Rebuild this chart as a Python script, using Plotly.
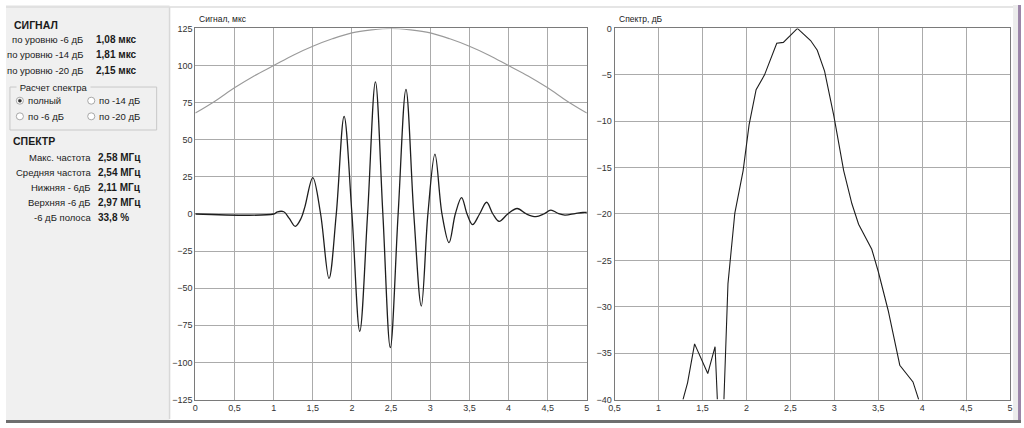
import plotly.graph_objects as go

# ---------------- data ----------------
signal_t = [0, 1.0, 1.05, 1.13, 1.2, 1.276, 1.35, 1.40, 1.50, 1.60, 1.707, 1.80, 1.90, 2.00,
            2.10, 2.20, 2.30, 2.395, 2.49, 2.59, 2.69, 2.79, 2.886, 2.97, 3.06, 3.15, 3.24,
            3.32, 3.40, 3.47, 3.54, 3.63, 3.72, 3.80, 3.88, 3.99, 4.11, 4.23, 4.35, 4.45,
            4.54, 4.63, 4.72, 4.85, 4.95, 5.0]
signal_v = [0, 0, 1.5, 1.5, -3, -8.3, -3, 5, 24.5, 0, -43.4, 0, 65.8, 0,
            -79, 0, 89, 0, -90, 0, 84, 0, -62, 0, 40.3, 0, -19.3,
            0, 11, 0, -7.2, 0, 7.9, 0, -5, 0, 3.7, 0, -1.8, 0,
            2.6, 0.5, -0.7, 0.3, 1, 1]

envelope_t = [0, 0.25, 0.5, 0.75, 1.0, 1.25, 1.5, 1.75, 2.0, 2.25, 2.5,
              2.75, 3.0, 3.25, 3.5, 3.75, 4.0, 4.25, 4.5, 4.75, 5.0]
envelope_v = [68, 76, 85, 93, 100, 107, 113, 118, 122, 124, 125,
              124, 122, 118, 113, 107, 100, 93, 85, 76, 68]

spec_f = [1.278, 1.33, 1.41, 1.56, 1.643, 1.669, None, 1.744, 1.79, 1.868, 1.962, 2.03,
          2.11, 2.206, 2.345, 2.42, 2.58, 2.73, 2.806, 2.889, 2.994, 3.107, 3.20, 3.276,
          3.426, 3.50, 3.613, 3.745, 3.895, 3.96]
spec_db = [-40, -38.2, -34.0, -37.2, -34.3, -40, None, -40, -27.5, -19.9, -15.35, -10.4,
           -6.6, -5.0, -1.6, -1.5, 0, -1.3, -2.35, -4.6, -9.4, -15.35, -18.9, -21.1,
           -23.8, -26.2, -30.4, -36.3, -38.1, -40]

x_ticks_sig = [0, 0.5, 1, 1.5, 2, 2.5, 3, 3.5, 4, 4.5, 5]
x_ticks_spec = [0.5, 1, 1.5, 2, 2.5, 3, 3.5, 4, 4.5, 5]

signal_rows = [("по уровню -6 дБ", "1,08 мкс"),
               ("по уровню -14 дБ", "1,81 мкс"),
               ("по уровню -20 дБ", "2,15 мкс")]
spectrum_rows = [("Макс. частота", "2,58 МГц"),
                 ("Средняя частота", "2,54 МГц"),
                 ("Нижняя - 6дБ", "2,11 МГц"),
                 ("Верхняя -6 дБ", "2,97 МГц"),
                 ("-6 дБ полоса", "33,8 %")]
radio_labels = ["полный", "по -14 дБ", "по -6 дБ", "по -20 дБ"]

# ---------------- helpers ----------------
W, H = 1024, 428
def px(x):
    return x / W
def py(y):
    return 1 - y / H

FONT = "Liberation Sans"
GRID = "#ababab"
BORDER = "#7a7a7a"

fig = go.Figure()

fig.add_trace(go.Scatter(x=envelope_t, y=envelope_v, mode="lines",
                         line=dict(color="#9a9a9a", width=1.1, shape="spline"),
                         xaxis="x", yaxis="y", hoverinfo="skip"))
fig.add_trace(go.Scatter(x=signal_t, y=signal_v, mode="lines",
                         line=dict(color="#1e1e1e", width=1.3, shape="spline", smoothing=1.0),
                         xaxis="x", yaxis="y", hoverinfo="skip"))
fig.add_trace(go.Scatter(x=spec_f, y=spec_db, mode="lines", connectgaps=False,
                         line=dict(color="#1e1e1e", width=1.1),
                         xaxis="x2", yaxis="y2", hoverinfo="skip"))

axis_common = dict(showgrid=True, gridcolor=GRID, gridwidth=1.2, zeroline=False,
                   showline=True, mirror=True, linecolor=BORDER, linewidth=1.2,
                   ticks="", tickfont=dict(family=FONT, size=9, color="#333333"),
                   fixedrange=True)

ydom = [py(404), py(24)]
fig.update_layout(
    autosize=True,
    margin=dict(l=0, r=0, t=0, b=0),
    paper_bgcolor="white", plot_bgcolor="white",
    showlegend=False,
    separators=", ",
    xaxis=dict(domain=[px(191), px(586)], range=[0, 5], tickvals=x_ticks_sig,
               anchor="y", **axis_common),
    yaxis=dict(domain=ydom, range=[-125, 125], dtick=25, tick0=0,
               anchor="x", **axis_common),
    xaxis2=dict(domain=[px(614), px(1013)], range=[0.5, 5], tickvals=x_ticks_spec,
                anchor="y2", **axis_common),
    yaxis2=dict(domain=ydom, range=[-40, 0], dtick=5, tick0=0,
                anchor="x2", **axis_common),
)

shapes = []
# left control panel
shapes.append(dict(type="rect", xref="paper", yref="paper", x0=0, x1=px(165), y0=0, y1=1,
                   fillcolor="#f0f0f0", line=dict(width=0), layer="below"))
shapes.append(dict(type="line", xref="paper", yref="paper", x0=px(165), x1=px(165), y0=py(2), y1=py(424),
                   line=dict(color="#d8d8d8", width=1.5)))
# top thin line
shapes.append(dict(type="line", xref="paper", yref="paper", x0=0, x1=1, y0=py(2), y1=py(2),
                   line=dict(color="#dcdcdc", width=1.5)))
# bottom dark band
shapes.append(dict(type="rect", xref="paper", yref="paper", x0=0, x1=1, y0=0, y1=py(425),
                   fillcolor="#6e6e6e", line=dict(width=0)))
# right border
shapes.append(dict(type="rect", xref="paper", yref="paper", x0=px(1016), x1=px(1021), y0=py(425), y1=1,
                   fillcolor="#ececec", line=dict(width=0)))
shapes.append(dict(type="rect", xref="paper", yref="paper", x0=px(1021), x1=1, y0=py(425), y1=1,
                   fillcolor="#9b86a8", line=dict(width=0)))
# group box
shapes.append(dict(type="rect", xref="paper", yref="paper", x0=px(4), x1=px(152), y0=py(128), y1=py(84),
                   line=dict(color="#c8c8c8", width=1), fillcolor="rgba(0,0,0,0)"))
# radio buttons
radio_pos = [(14, 98), (86, 98), (14, 114), (86, 114)]
for i, (cx, cy) in enumerate(radio_pos):
    r = 3.6
    shapes.append(dict(type="circle", xref="paper", yref="paper",
                       x0=px(cx - r), x1=px(cx + r), y0=py(cy + r), y1=py(cy - r),
                       line=dict(color="#a8a8a8", width=1), fillcolor="white"))
    if i == 0:
        r2 = 1.6
        shapes.append(dict(type="circle", xref="paper", yref="paper",
                           x0=px(cx - r2), x1=px(cx + r2), y0=py(cy + r2), y1=py(cy - r2),
                           line=dict(color="#333333", width=0.5), fillcolor="#333333"))
fig.update_layout(shapes=shapes)

ann = []
def text(x, y, s, anchor="left", size=9.5, bold=False, color="#1a1a1a", bg=None):
    d = dict(x=px(x), y=py(y), xref="paper", yref="paper", showarrow=False,
             text=f"<b>{s}</b>" if bold else s, xanchor=anchor, yanchor="middle",
             font=dict(family=FONT, size=size, color=color))
    if bg:
        d["bgcolor"] = bg
        d["borderpad"] = 0
    ann.append(d)

text(6, 20, "СИГНАЛ", bold=True, size=10.5)
for i, (lab, val) in enumerate(signal_rows):
    y = 35 + i * 16
    text(80, y, lab, anchor="right")
    text(89, y, val, bold=True, size=10)
text(10, 84, " Расчет спектра ", bg="#f0f0f0")
for (cx, cy), lab in zip(radio_pos, radio_labels):
    text(cx + 6, cy, lab)
text(5, 139, "СПЕКТР", bold=True, size=10.5)
for i, (lab, val) in enumerate(spectrum_rows):
    y = 156 + i * 15.5
    text(88, y, lab, anchor="right")
    text(91, y, val, bold=True, size=10)

text(193, 14, "Сигнал, мкс", size=8.5)
text(616, 14, "Спектр, дБ", size=8.5)
fig.update_layout(annotations=ann)

fig.write_html(
    "out.html",
    config={"displayModeBar": False, "responsive": True},
    default_width="100vw",
    default_height="100vh",
    post_script=(
        "var d=document.getElementById('{plot_id}');"
        "document.documentElement.style.margin='0';document.documentElement.style.padding='0';"
        "document.documentElement.style.overflow='hidden';"
        "document.body.style.margin='0';document.body.style.padding='0';"
        "document.body.style.overflow='hidden';"
        "d.style.position='fixed';d.style.left='0px';d.style.top='0px';"
        "d.style.width='100vw';d.style.height='100vh';"
        "Plotly.Plots.resize(d);"
    ),
)
